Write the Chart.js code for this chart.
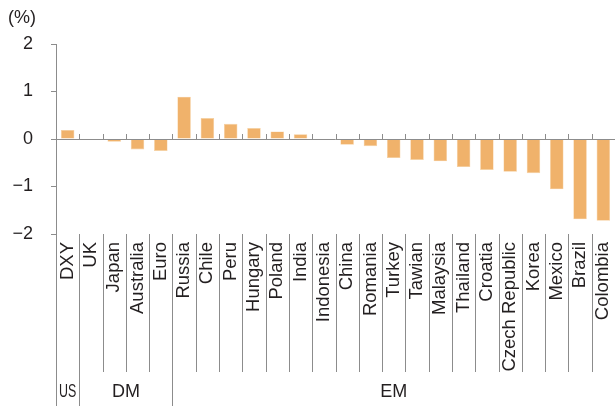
<!DOCTYPE html>
<html>
<head>
<meta charset="utf-8">
<script src="https://cdn.jsdelivr.net/npm/chart.js@4"></script>
<style>
  html,body{margin:0;padding:0;background:#fff;}
  #wrap{position:relative;width:615px;height:406px;}
</style>
</head>
<body>
<div id="wrap"><canvas id="c"></canvas></div>
<script>
/* ---------- Data ---------- */
const categories = ['DXY','UK','Japan','Australia','Euro','Russia','Chile','Peru','Hungary','Poland','India',
  'Indonesia','China','Romania','Turkey','Tawian','Malaysia','Thailand','Croatia','Czech Republic','Korea',
  'Mexico','Brazil','Colombia'];
const values = [0.19, 0, -0.06, -0.22, -0.25, 0.89, 0.44, 0.32, 0.23, 0.16, 0.10,
  0, -0.12, -0.15, -0.40, -0.44, -0.47, -0.59, -0.65, -0.69, -0.72,
  -1.06, -1.69, -1.72];
const groups     = ['US','DM','EM'];
const groupSizes = [1, 4, 19];
const unitLabel  = '(%)';

/* ---------- Style ---------- */
const BAR   = '#f0b26b';
const LINE  = '#8c8c8c';
const TEXT  = '#231f20';
const FONT  = '"Liberation Sans", Arial, sans-serif';

const fmtTick = (v)=> v < 0 ? '\u2212' + Math.abs(v) : String(v);

/* separators, zero line, group labels */
const decor = {
  id: 'decor',
  afterDatasetsDraw(chart){
    const {ctx, chartArea:a, scales:{x, y}} = chart;
    const half = (x.getPixelForValue(1) - x.getPixelForValue(0)) / 2;
    const y0 = y.getPixelForValue(0);
    const H = chart.height;
    ctx.save();
    ctx.strokeStyle = LINE;
    ctx.lineWidth = 1;

    // zero line
    ctx.beginPath();
    ctx.moveTo(a.left, Math.round(y0) + 0.5);
    ctx.lineTo(a.right, Math.round(y0) + 0.5);
    ctx.stroke();

    // group boundaries (index of first category in each group)
    const starts = [];
    let acc = 0;
    groupSizes.forEach(n => { starts.push(acc); acc += n; });

    for (let i = 1; i < categories.length; i++) {
      const px = Math.round(x.getPixelForValue(i) - half) + 0.5;
      // small tick on the zero line
      ctx.beginPath();
      ctx.moveTo(px, y0);
      ctx.lineTo(px, y0 - 5);
      ctx.stroke();
      // separator under the axis
      const full = starts.includes(i);
      ctx.beginPath();
      ctx.moveTo(px, a.bottom);
      ctx.lineTo(px, full ? H : 372);
      ctx.stroke();
    }
    // axis line continues down
    ctx.beginPath();
    ctx.moveTo(Math.round(a.left) + 0.5, a.bottom);
    ctx.lineTo(Math.round(a.left) + 0.5, H);
    ctx.stroke();

    // group labels
    ctx.fillStyle = TEXT;
    ctx.font = '18px ' + FONT;
    ctx.textAlign = 'center';
    ctx.textBaseline = 'middle';
    groups.forEach((g, k) => {
      const l = x.getPixelForValue(starts[k]) - half;
      const r = x.getPixelForValue(starts[k] + groupSizes[k] - 1) + half;
      const cx = k === groups.length - 1 ? (l + chart.width) / 2 : (l + r) / 2;
      ctx.fillText(g, cx, 392, r - l - 6);
    });

    // unit label
    ctx.textAlign = 'left';
    ctx.fillText(unitLabel, 8, 18);
    ctx.restore();
  }
};

new Chart(document.getElementById('c'), {
  type: 'bar',
  data: {
    labels: categories,
    datasets: [{
      data: values,
      backgroundColor: BAR,
      borderColor: '#f6cf9f',
      borderWidth: 0.6,
      barPercentage: 0.58,
      categoryPercentage: 1
    }]
  },
  options: {
    responsive: true,
    maintainAspectRatio: false,
    animation: false,
    layout: { padding: { top: 44, right: 0, left: 0, bottom: 0 } },
    plugins: { legend: { display: false }, tooltip: { enabled: false } },
    scales: {
      x: {
        grid: { display: false, drawTicks: false },
        border: { display: false },
        ticks: {
          autoSkip: false, minRotation: 90, maxRotation: 90,
          padding: 8, color: TEXT, font: { size: 18.5, family: FONT }
        },
        afterFit: (s)=>{ s.height = 172; s.paddingLeft = 0; s.paddingRight = 0; }
      },
      y: {
        min: -2, max: 2,
        grid: { drawOnChartArea: false, tickLength: 5, color: LINE },
        border: { color: LINE },
        ticks: {
          stepSize: 1, padding: 18, color: TEXT,
          font: { size: 18, family: FONT },
          callback: fmtTick
        },
        afterFit: (s)=>{ s.width = 56; }
      }
    }
  },
  plugins: [decor]
});
</script>
</body>
</html>
